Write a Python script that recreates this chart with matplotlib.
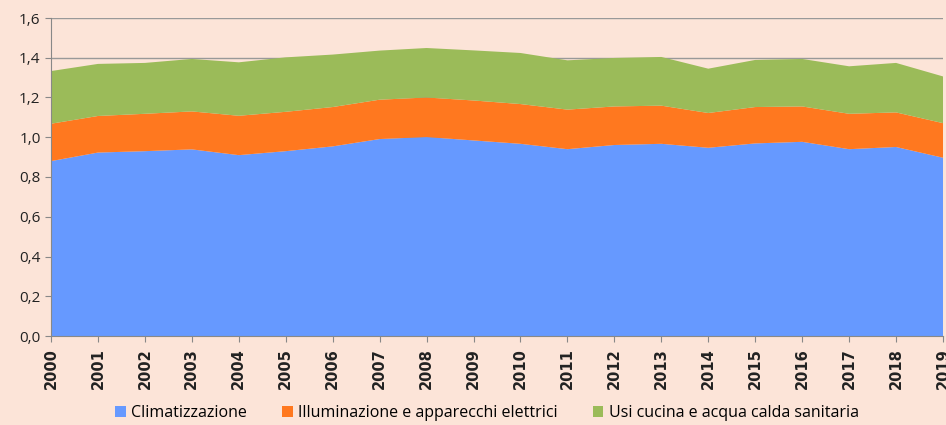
import matplotlib
matplotlib.use('Agg')
import matplotlib.pyplot as plt
from matplotlib.ticker import FuncFormatter

# Years and stacked series
years = list(range(2000, 2020))
clima = [0.880, 0.923, 0.930, 0.939, 0.910, 0.930, 0.954, 0.991, 1.001, 0.984,
         0.967, 0.940, 0.961, 0.967, 0.947, 0.969, 0.977, 0.940, 0.951, 0.897]
illum = [0.188, 0.184, 0.188, 0.191, 0.198, 0.198, 0.198, 0.198, 0.199, 0.201,
         0.200, 0.199, 0.194, 0.192, 0.175, 0.183, 0.178, 0.178, 0.174, 0.174]
cucina = [0.265, 0.262, 0.256, 0.264, 0.269, 0.274, 0.264, 0.247, 0.249, 0.252,
          0.257, 0.248, 0.244, 0.245, 0.223, 0.237, 0.239, 0.239, 0.249, 0.235]
labels = ['Climatizzazione', 'Illuminazione e apparecchi elettrici',
          'Usi cucina e acqua calda sanitaria']
colors = ['#6699FF', '#FF781F', '#9BBB59']

bg = '#FCE4D8'
plt.rcParams['font.family'] = ['Open Sans', 'DejaVu Sans']

fig = plt.figure(figsize=(9.46, 4.25), dpi=100, facecolor=bg)
ax = fig.add_axes([51 / 946, 1 - 336 / 425, 892 / 946, 318 / 425])
ax.set_facecolor(bg)

ax.stackplot(years, clima, illum, cucina, colors=colors, labels=labels,
             linewidth=0, zorder=2)

ax.set_ylim(0, 1.6)
ax.set_xlim(2000, 2019)
ax.set_yticks([i * 0.2 for i in range(9)])
ax.yaxis.set_major_formatter(FuncFormatter(lambda v, p: f'{v:.1f}'.replace('.', ',')))
ax.set_xticks(years)
ax.set_xticklabels([str(y) for y in years], rotation=90, fontsize=10.5,
                   fontweight='bold', color='#222222', family='DejaVu Sans')
ax.tick_params(axis='y', labelsize=11, colors='#222222', length=4,
               color='#888888')
ax.tick_params(axis='x', length=4, color='#888888', pad=5)
ax.grid(axis='y', color='#999999', linewidth=1, zorder=1)
for s in ['top', 'right']:
    ax.spines[s].set_visible(False)
for s in ['left', 'bottom']:
    ax.spines[s].set_color('#888888')

fig.legend(loc='center', bbox_to_anchor=(0.515, 1 - 413 / 425), ncol=3,
           frameon=False, fontsize=11.5, handlelength=0.65, handleheight=0.65,
           columnspacing=2.2, handletextpad=0.35)

fig.savefig('out.png', dpi=100, facecolor=bg)
